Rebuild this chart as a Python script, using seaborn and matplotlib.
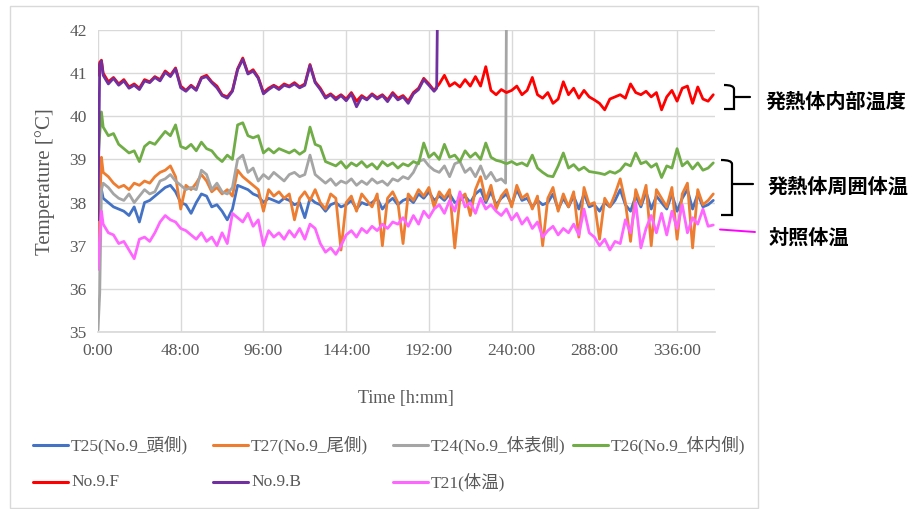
import numpy as np
import pandas as pd
import matplotlib
matplotlib.use("Agg")
import matplotlib.pyplot as plt
from matplotlib.lines import Line2D
from matplotlib.patches import Rectangle, PathPatch
from matplotlib.path import Path
import seaborn as sns

# ---------------- data ----------------
hours = [0, 1, 2] + list(range(3, 358, 3))  # sampling times [h]

t25 = [38.20, 38.30, 38.30, 38.10, 38.00, 37.90, 37.85, 37.80, 37.70, 37.90,
       37.55, 38.00, 38.05, 38.15, 38.25, 38.35, 38.40, 38.25, 38.00, 37.95,
       37.75, 38.00, 38.20, 38.15, 37.90, 37.95, 37.80, 37.60, 37.85, 38.40,
       38.35, 38.30, 38.20, 38.15, 38.00, 38.10, 38.05, 38.00, 38.10, 38.05,
       37.95, 38.00, 37.65, 38.10, 38.00, 37.95, 37.80, 37.95, 38.00, 37.90,
       37.95, 38.05, 37.85, 38.00, 37.95, 38.00, 38.10, 37.85, 38.00, 38.10,
       37.95, 38.05, 38.10, 38.00, 38.20, 38.10, 38.25, 38.05, 38.15, 38.05,
       38.20, 38.00, 38.05, 38.15, 38.00, 38.20, 38.30, 38.00, 38.25, 37.95,
       38.10, 38.20, 37.95, 38.30, 38.05, 38.10, 37.90, 38.05, 37.95, 38.00,
       38.20, 37.85, 38.10, 37.90, 38.15, 37.85, 38.20, 37.90, 37.95, 37.80,
       38.00, 37.90, 38.05, 38.30, 37.95, 37.80, 38.15, 37.90, 38.25, 37.85,
       38.15, 38.00, 37.85, 38.20, 37.80, 38.10, 38.30, 37.85, 38.20, 37.90,
       37.95, 38.05]

t27 = [37.10, 37.90, 39.05, 38.70, 38.60, 38.45, 38.35, 38.40, 38.30, 38.45,
       38.40, 38.50, 38.45, 38.60, 38.70, 38.75, 38.85, 38.60, 37.85, 38.40,
       38.30, 38.45, 38.65, 38.50, 38.25, 38.35, 38.20, 38.30, 38.15, 38.75,
       38.60, 38.50, 38.40, 38.30, 37.80, 38.30, 38.15, 38.25, 38.10, 38.20,
       37.60, 38.10, 38.25, 38.05, 38.30, 38.00, 37.85, 38.20, 38.10, 36.90,
       38.00, 38.15, 37.80, 38.20, 38.05, 37.90, 38.20, 37.00, 38.10, 38.25,
       38.00, 37.05, 38.20, 38.05, 38.30, 38.15, 38.35, 37.90, 38.25, 38.10,
       38.30, 36.95, 38.10, 38.20, 37.70, 38.30, 38.60, 38.05, 38.40, 37.85,
       38.15, 38.30, 37.90, 38.40, 38.10, 38.20, 37.85, 38.15, 37.00, 38.10,
       38.35, 37.80, 38.20, 37.90, 38.25, 37.20, 38.35, 37.95, 38.00, 37.15,
       38.10, 37.90, 38.20, 38.55, 38.00, 37.10, 38.30, 37.95, 38.40, 37.00,
       38.30, 38.10, 37.90, 38.35, 37.15, 38.20, 38.45, 36.95, 38.30, 37.95,
       38.05, 38.20]

t24 = [35.05, 35.90, 38.30, 38.45, 38.35, 38.20, 38.10, 38.05, 38.20, 38.00,
       38.15, 38.30, 38.20, 38.25, 38.50, 38.55, 38.65, 38.50, 38.40, 38.30,
       38.35, 38.30, 38.75, 38.65, 38.30, 38.45, 38.25, 38.20, 38.35, 39.00,
       39.10, 38.70, 38.80, 38.50, 38.65, 38.55, 38.70, 38.60, 38.50, 38.65,
       38.70, 38.60, 38.65, 39.10, 38.65, 38.55, 38.45, 38.55, 38.40, 38.50,
       38.45, 38.55, 38.40, 38.50, 38.42, 38.55, 38.45, 38.50, 38.40, 38.55,
       38.50, 38.60, 38.55, 38.70, 38.95, 39.00, 38.85, 38.75, 38.70, 38.85,
       38.60, 38.90, 38.95, 38.70, 38.80, 38.60, 38.85, 38.55, 38.70, 38.50,
       38.55, 38.45, 42.50]
t24_hours = hours[:81] + [236.5, 237]

t26 = [38.95, 39.60, 40.10, 39.75, 39.55, 39.60, 39.35, 39.25, 39.15, 39.20,
       38.95, 39.30, 39.40, 39.35, 39.50, 39.65, 39.55, 39.80, 39.30, 39.25,
       39.35, 39.20, 39.40, 39.25, 39.20, 39.05, 38.95, 39.10, 39.00, 39.80,
       39.85, 39.55, 39.50, 39.55, 39.15, 39.25, 39.15, 39.25, 39.20, 39.15,
       39.22, 39.12, 39.20, 39.75, 39.35, 39.30, 38.95, 38.90, 38.85, 38.95,
       38.80, 38.92, 38.85, 38.95, 38.82, 38.90, 38.78, 38.95, 38.85, 38.92,
       38.80, 38.90, 38.85, 38.95, 38.90, 39.38, 39.05, 39.15, 39.00, 39.35,
       39.05, 39.10, 38.95, 39.20, 39.05, 39.15, 39.00, 39.38, 39.05, 38.98,
       38.95, 38.90, 38.95, 38.88, 38.92, 38.85, 39.10, 38.80, 38.70, 38.62,
       38.60, 38.85, 39.15, 38.80, 38.88, 38.75, 38.82, 38.72, 38.70, 38.68,
       38.65, 38.72, 38.68, 38.75, 38.90, 38.85, 39.15, 38.90, 38.95, 38.82,
       38.90, 38.58, 38.85, 38.80, 39.25, 38.85, 38.95, 38.78, 38.92, 38.75,
       38.80, 38.92]

no9f = [40.95, 41.25, 41.30, 41.00, 40.80, 40.90, 40.75, 40.85, 40.68, 40.75,
        40.65, 40.85, 40.80, 40.92, 40.85, 41.05, 40.95, 41.12, 40.70, 40.60,
        40.72, 40.62, 40.90, 40.95, 40.80, 40.70, 40.50, 40.45, 40.60, 41.10,
        41.35, 41.00, 41.08, 40.90, 40.55, 40.65, 40.72, 40.65, 40.75, 40.70,
        40.78, 40.68, 40.75, 41.20, 40.80, 40.65, 40.45, 40.52, 40.42, 40.50,
        40.40, 40.55, 40.35, 40.48, 40.40, 40.52, 40.43, 40.50, 40.38, 40.55,
        40.42, 40.48, 40.35, 40.55, 40.65, 40.88, 40.75, 40.60, 40.75, 40.95,
        40.70, 40.78, 40.68, 40.85, 40.70, 40.92, 40.70, 41.15, 40.60, 40.50,
        40.62, 40.55, 40.60, 40.70, 40.50, 40.60, 40.90, 40.50, 40.42, 40.55,
        40.30, 40.40, 40.80, 40.50, 40.65, 40.42, 40.60, 40.45, 40.38, 40.30,
        40.15, 40.40, 40.45, 40.50, 40.42, 40.75, 40.55, 40.50, 40.58, 40.45,
        40.55, 40.15, 40.45, 40.60, 40.35, 40.65, 40.70, 40.30, 40.68, 40.40,
        40.35, 40.50]

no9b = [37.60, 41.20, 41.28, 40.95, 40.75, 40.88, 40.72, 40.82, 40.65, 40.72,
        40.62, 40.82, 40.78, 40.90, 40.82, 41.02, 40.92, 41.10, 40.66, 40.58,
        40.70, 40.60, 40.88, 40.92, 40.78, 40.66, 40.48, 40.42, 40.58, 41.08,
        41.32, 40.98, 41.05, 40.88, 40.52, 40.62, 40.70, 40.62, 40.72, 40.68,
        40.75, 40.66, 40.72, 41.18, 40.78, 40.62, 40.42, 40.50, 40.38, 40.48,
        40.36, 40.52, 40.22, 40.45, 40.38, 40.50, 40.40, 40.48, 40.34, 40.52,
        40.38, 40.45, 40.30, 40.52, 40.62, 40.85, 40.72, 40.58,
        40.65, 42.50]
no9b_hours = hours[:68] + [196.5, 197]

t21 = [36.45, 37.20, 37.80, 37.50, 37.30, 37.25, 37.05, 37.10, 36.90, 36.70,
       37.15, 37.20, 37.10, 37.30, 37.55, 37.70, 37.60, 37.55, 37.40, 37.35,
       37.25, 37.15, 37.30, 37.10, 37.20, 37.00, 37.30, 37.05, 37.75, 37.65,
       37.55, 37.75, 37.45, 37.60, 37.00, 37.35, 37.20, 37.30, 37.15, 37.35,
       37.20, 37.40, 37.15, 37.50, 37.40, 37.05, 36.85, 36.95, 36.80, 37.00,
       37.25, 37.35, 37.20, 37.40, 37.30, 37.45, 37.35, 37.50, 37.40, 37.55,
       37.50, 37.65, 37.45, 37.70, 37.50, 37.80, 37.65, 37.85, 37.95, 37.75,
       38.05, 37.80, 38.25, 37.90, 38.00, 37.75, 38.10, 37.85, 37.95, 37.80,
       37.70, 37.85, 37.60, 37.75, 37.50, 37.65, 37.40, 37.55, 37.20, 37.35,
       37.45, 37.25, 37.40, 37.30, 37.50, 37.25, 37.85, 37.30, 37.20, 37.00,
       37.15, 36.90, 37.10, 37.05, 37.60, 37.30, 38.00, 36.95, 37.40, 37.70,
       37.30, 37.75, 37.25, 37.80, 37.40, 37.95, 37.30, 37.65, 37.50, 37.85,
       37.45, 37.48]

series_names = ["T25(No.9_頭側)", "T27(No.9_尾側)", "T24(No.9_体表側)", "T26(No.9_体内側)",
                "No.9.F", "No.9.B", "T21(体温)"]
series_colors = ["#4472C4", "#ED7D31", "#A5A5A5", "#70AD47", "#FF0000", "#7030A0", "#FF66FF"]

xtick_hours = [0, 48, 96, 144, 192, 240, 288, 336]
xtick_labels = ["0:00", "48:00", "96:00", "144:00", "192:00", "240:00", "288:00", "336:00"]
ytick_values = [35, 36, 37, 38, 39, 40, 41, 42]

groups = ["発熱体内部温度", "発熱体周囲体温", "対照体温"]

# ---------------- build table ----------------
parts = []
for name, hrs, vals in zip(series_names,
                           [hours, hours, t24_hours, hours, hours, no9b_hours, hours],
                           [t25, t27, t24, t26, no9f, no9b, t21]):
    parts.append(pd.DataFrame({"hour": hrs, "temp": vals, "series": name}))
df = pd.concat(parts, ignore_index=True)

# ---------------- figure ----------------
sns.set_theme(style="white")
plt.rcParams["font.family"] = ["Liberation Serif", "Noto Sans CJK JP", "DejaVu Sans"]

W, H = 922, 509
fig = plt.figure(figsize=(W / 100, H / 100), dpi=100)
fig.patch.set_facecolor("white")


def fx(x):
    return x / W


def fy(y):
    return 1 - y / H


# outer chart frame
fig.add_artist(Rectangle((fx(10), fy(508)), fx(758) - fx(10), fy(6) - fy(508),
                         transform=fig.transFigure, fill=False, edgecolor="#D9D9D9", lw=1.0))

ax = fig.add_axes([fx(98), fy(332), fx(715) - fx(98), fy(30) - fy(332)])
sns.lineplot(data=df, x="hour", y="temp", hue="series", hue_order=series_names,
             palette=dict(zip(series_names, series_colors)), estimator=None,
             sort=False, legend=False, linewidth=2.0, ax=ax)

ax.set_xlim(0, 358)
ax.set_ylim(35, 42)
ax.set_xticks(xtick_hours)
ax.set_xticklabels(xtick_labels)
ax.set_yticks(ytick_values)
ax.grid(True, color="#D9D9D9", lw=1.0)
ax.set_axisbelow(True)
for s in ["top", "right", "left"]:
    ax.spines[s].set_visible(False)
ax.spines["bottom"].set_color("#D9D9D9")
ax.tick_params(axis="both", length=0, labelsize=12.5, labelcolor="#595959", pad=8)
ax.set_xlabel("")
ax.set_ylabel("")

fig.text(fx(406), fy(398), "Time [h:mm]", ha="center", va="center",
         fontsize=13, color="#595959")
fig.text(fx(45), fy(182), "Temperature [°C]", ha="center", va="center",
         rotation=90, fontsize=15, color="#595959")

# legend (manual layout as in the original)
leg_cols = [33, 213, 393, 573]
leg_rows = [445, 482]
positions = [(leg_cols[0], leg_rows[0]), (leg_cols[1], leg_rows[0]),
             (leg_cols[2], leg_rows[0]), (leg_cols[3], leg_rows[0]),
             (leg_cols[0], leg_rows[1]), (leg_cols[1], leg_rows[1]),
             (leg_cols[2], leg_rows[1])]
for (lx, ly), name, col in zip(positions, series_names, series_colors):
    fig.add_artist(Line2D([fx(lx), fx(lx + 35)], [fy(ly), fy(ly)], color=col, lw=2.2,
                          transform=fig.transFigure))
    fig.text(fx(lx + 38), fy(ly), name, ha="left", va="center", fontsize=12.5,
             color="#595959", family=["Liberation Serif", "Noto Sans CJK JP"])


# brackets and annotations
def bracket(x0, x1, ytop, ybot, ymid, xt):
    verts = [(x0, ytop), (x1, ytop), (x1, ytop + 4), (x1, ytop + 8),
             (x1, ybot - 8), (x1, ybot - 4), (x1, ybot), (x0, ybot)]
    codes = [Path.MOVETO, Path.CURVE3, Path.CURVE3, Path.LINETO,
             Path.LINETO, Path.CURVE3, Path.CURVE3, Path.LINETO]
    verts = [(fx(a), fy(b)) for a, b in verts]
    fig.add_artist(PathPatch(Path(verts, codes), fill=False, edgecolor="black", lw=1.6,
                             transform=fig.transFigure))
    fig.add_artist(Line2D([fx(x1), fx(xt)], [fy(ymid), fy(ymid)], color="black", lw=1.6,
                          transform=fig.transFigure))


bracket(724, 734, 85, 109, 97, 750)
bracket(721, 732, 160, 215, 184, 753)
fig.add_artist(Line2D([fx(720), fx(755)], [fy(229.5), fy(232)], color="#FF00FF", lw=1.4,
                      transform=fig.transFigure))

jp = ["Noto Sans CJK JP", "DejaVu Sans"]
fig.text(fx(766), fy(101), groups[0], ha="left", va="center", fontsize=14.5,
         fontweight="bold", family=jp, color="black")
fig.text(fx(768), fy(186), groups[1], ha="left", va="center", fontsize=14.5,
         fontweight="bold", family=jp, color="black")
fig.text(fx(769), fy(237), groups[2], ha="left", va="center", fontsize=14.5,
         fontweight="bold", family=jp, color="black")

fig.savefig("out.png", dpi=100, facecolor="white")
